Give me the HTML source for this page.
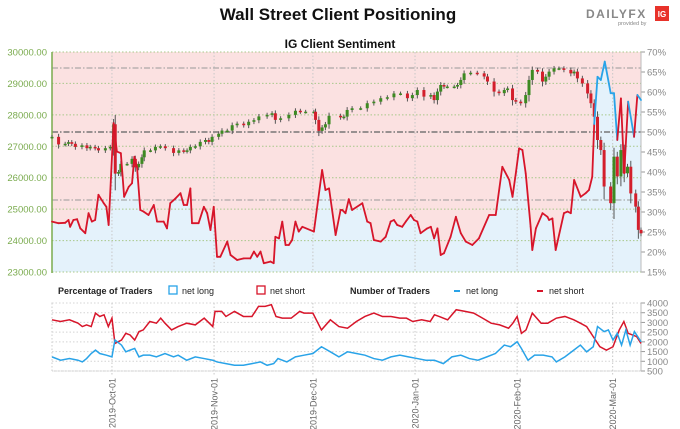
<!DOCTYPE html>
<html><head><meta charset="utf-8"><style>
body{margin:0;background:#fff;}
svg{display:block;font-family:"Liberation Sans",sans-serif;}
</style></head><body>
<svg id="c" width="680" height="429">
<text x="338" y="20" text-anchor="middle" font-size="17" font-weight="bold" fill="#111">Wall Street Client Positioning</text>
<g>
<text x="586" y="18" font-size="12" font-weight="bold" fill="#888" letter-spacing="1.5">DAILYFX</text>
<rect x="655" y="6" width="14" height="15" fill="#e8322a"/>
<text x="662" y="17" text-anchor="middle" font-size="8" font-weight="bold" fill="#fff">IG</text>
<text x="618" y="25" font-size="5.5" fill="#888">provided by</text>
</g>
<text x="340" y="48" text-anchor="middle" font-size="12" font-weight="bold" fill="#111">IG Client Sentiment</text>
<g id="main"></g>
<g id="lower"></g>
</svg>
<script>
// ---- data: net long % (days from 2019-10-01) ----
const pctDays=[-18.2,-16.2,-14.2,-13.2,-12.7,-11.7,-10.6,-9.6,-8.1,-7.1,-6.1,-5.1,-4.1,-2.5,-1.7,-1.0,0.5,1.5,2.7,3.7,5.1,6.1,6.8,7.6,8.6,9.6,11.1,12.7,13.7,15.7,16.7,17.7,19.3,20.8,21.8,22.8,23.8,24.3,26.3,27.9,28.9,29.9,30.9,31.9,32.9,35.0,36.0,38.0,40.0,42.0,43.1,44.1,45.1,46.1,48.1,49.1,49.6,50.7,51.7,52.7,53.7,54.7,55.7,56.7,57.8,61.3,63.8,64.8,65.9,67.9,69.4,
69.9,70.9,71.9,72.9,76.0,77.5,78.5,79.5,81.6,83.1,84.6,85.6,86.6,88.1,89.2,90.7,91.7,92.7,93.7,95.7,96.8,97.8,98.8,99.8,100.8,102.8,104.4,105.9,107.4,109.4,111.4,114.5,116.5,118.5,120.1,120.6,121.6,122.6,123.6,124.6,125.6,127.1,127.6,128.7,130.7,132.2,132.7,133.7,134.7,137.2,138.3,139.3,140.3,142.3,143.8,144.8,145.8,146.4,147.4,148.4,149.6,151.4,152.4,153.4,154.5,155.5,156.7,158.5,159.5,160.6];
const pctLong=[27.6,27.2,27.3,28,26.3,28,28.2,25.9,24.7,29.7,27.6,28,34.3,32.2,31.3,26.75,52.2,45.1,44.7,33.8,36.3,37.2,43.8,41.3,30.5,30.1,29.25,31.75,27.6,27.6,25.9,32.2,33.4,34.7,31.75,31.75,35.9,27.2,27.2,31.3,29.7,25.5,31.3,18.8,18.8,22.6,19.25,18,18.4,18.4,20.1,18.8,20.1,17.2,17.6,17.2,23.8,23.4,27.6,21.75,21.75,23,27.6,25.1,26.3,25.1,40.5,35.5,35.9,24.25,30.5,
30.5,29.7,33.2,30.5,32.2,27.6,27.2,23,22.6,23.8,27.6,28,26.75,26.3,27.6,29.25,28,27.6,24.7,25.9,26.3,23.4,25.9,19.25,19.7,23.8,28.8,24.7,22.6,21.75,23.4,29.25,29.25,41.3,38.8,38,33.8,39.7,45.9,45.5,39.7,26.3,20.5,25.9,29.7,28.8,28,28.4,20.5,29.7,30.1,29.7,38,33.8,34.7,35.5,38.8,52,63.8,63,67.6,59.7,59.7,48,58.4,39.7,57.6,48.8,59.25,58];
// ---- price closes ----
const pxDays=[-18.2,-16.2,-14.2,-13.2,-12.2,-11.1,-9.1,-7.6,-6.6,-5.1,-4.1,-2.0,-0.5,0.5,1.0,2.0,2.7,4.6,6.1,7.1,8.1,9.1,9.8,11.7,13.2,14.7,16.2,18.7,20.3,21.8,22.8,23.8,25.3,26.8,28.4,29.4,30.4,32.4,33.4,35.0,36.5,38.0,40.0,41.5,43.1,44.6,47.1,48.6,49.6,51.2,53.7,55.7,57.2,58.8,61.3,61.8,62.8,63.8,64.8,65.9,69.4,
70.4,71.4,72.9,75.5,77.5,79.5,81.6,83.6,85.6,87.6,89.7,91.2,92.7,94.7,96.8,97.8,98.8,99.8,100.8,101.8,103.9,104.9,105.9,106.9,108.9,110.9,113.0,114.0,116.0,117.5,119.1,120.1,121.6,122.6,124.1,125.6,126.6,127.6,129.2,130.7,131.7,132.7,134.2,135.7,137.2,139.3,140.3,141.3,142.8,144.4,145.4,146.4,147.4,148.4,149.4,151.4,152.4,153.4,154.5,155.5,156.5,157.5,159.0,159.8,160.6];
const pxClose=[27300,27060,27080,27130,27080,26980,27030,26940,26980,26940,26870,26940,26980,27700,26130,26180,26440,26440,26600,26330,26440,26650,26870,26870,26980,27000,26940,26790,26870,26840,26870,26980,27000,27140,27200,27140,27300,27400,27500,27500,27670,27720,27670,27780,27830,27950,28000,28050,27840,27890,28000,28130,28100,28100,28100,27840,27490,27600,27700,27970,27920,
27944,28155,28210,28210,28370,28420,28530,28560,28680,28680,28530,28630,28790,28580,28630,28470,28740,28950,28900,28900,28900,28950,29110,29320,29340,29320,29220,29060,28740,28690,28790,28840,28470,28420,28370,28630,29110,29430,29375,29060,29215,29375,29480,29480,29430,29320,29375,29160,29000,28680,28370,27940,27200,26880,25720,25190,26670,26040,26880,26140,26350,25500,25080,24340,24230];
// ---- trader counts ----
const shortDays=[-18.2,-15.6,-12.9,-10.3,-9.0,-7.7,-6.3,-5.0,-3.7,-2.4,-1.1,0,0.9,2.9,4.2,5.5,6.9,8.2,9.5,11.5,13.5,14.8,16.1,18.1,20.1,22.7,25.3,28.0,30.6,31.3,33.3,34.6,37.2,39.9,42.5,44.5,46.5,48.4,49.8,51.7,54.4,57.0,58.3,61.0,63.6,66.3,68.9,71.5,74.2,76.8,79.5,82.1,84.7,87.4,89.4,91.3,94.0,96.6,97.9,99.3,101.9,104.5,107.2,109.8,112.5,115.1,117.7,120.4,121.7,123.0,124.3,125.7,127.6,130.3,132.3,134.9,137.5,140.2,142.2,144.1,146.1,148.1,150.1,152.1,154.0,155.4,156.7,158.0,159.3,160.6];
const shortCount=[3134,3047,3134,2960,2787,2873,2787,3480,3307,3393,2787,3220,1920,2094,2440,2354,2094,2527,2614,3047,2960,3220,2960,2614,2787,2960,2873,3220,2787,3567,3567,3307,3567,3307,3307,3827,3827,3913,3307,3220,3220,3567,3480,3480,2614,3134,2787,2700,3047,3307,3480,3307,3307,3220,3220,3047,3134,3047,3393,3307,3134,3653,3567,3480,3220,2960,2873,2700,2960,3307,2440,2614,3480,2960,2960,3220,3307,3134,2960,2787,2268,1750,1574,1747,2614,3047,2440,2354,2268,1920];
const longDays=[-18.2,-15.6,-12.9,-10.3,-9.0,-7.7,-6.3,-5.0,-3.7,-1.7,0,0.9,2.9,4.2,5.5,6.9,8.2,9.5,11.5,13.5,16.1,18.7,20.1,22.7,25.3,28.0,30.6,31.9,34.6,37.2,39.9,42.5,45.1,47.1,49.1,50.4,53.1,55.7,58.3,61.0,63.6,66.3,68.9,71.5,74.2,76.8,79.5,82.1,84.7,87.4,90.0,92.7,95.3,97.9,100.6,103.2,105.9,108.5,111.1,113.8,116.4,119.1,121.0,123.0,124.3,126.3,128.3,130.9,133.6,134.9,137.5,140.2,142.2,144.1,146.1,147.4,149.4,150.7,152.1,153.4,154.7,156.0,157.3,158.6,160.6];
const longCount=[1227,1054,1140,1054,967,1140,1400,1574,1400,1314,1227,2094,1834,1487,1574,1660,1227,1314,1314,1227,1400,1227,1314,1054,1227,1140,1054,967,880,794,794,880,967,794,880,1140,967,1227,1314,1400,1747,1487,1227,1487,1400,1314,1140,1054,1227,1314,1227,1140,1054,1054,880,1227,1314,1140,1054,1227,1400,1834,1747,2007,1660,1054,1314,1314,1227,967,1227,1574,1834,1487,1747,2787,2527,2614,2094,2440,1834,2614,1834,2527,2007];
const priceTicks=[30000,29000,28000,27000,26000,25000,24000,23000];
const pctTicks=[70,65,60,55,50,45,40,35,30,25,20,15];
const countTicks=[4000,3500,3000,2500,2000,1500,1000,500];
const monthLabels=["2019-Oct-01","2019-Nov-01","2019-Dec-01","2020-Jan-01","2020-Feb-01","2020-Mar-01"];
const monthDays=[0,31,61,92,123,152];

const NS="http://www.w3.org/2000/svg";
function mk(parent,tag,attrs,text){const e=document.createElementNS(NS,tag);for(const k in attrs)e.setAttribute(k,attrs[k]);if(text!=null)e.textContent=text;parent.appendChild(e);return e;}
const X0=52,X1=641,D0=-18.2,D1=160.6;
const xs=d=>X0+(d-D0)/(D1-D0)*(X1-X0);
const T=52,B=272;
const yPrice=p=>T+(30000-p)/7000*(B-T);
const yPct=v=>T+(70-v)/55*(B-T);
const LT=303,LB=371;
const yCnt=v=>LT+(4000-v)/3500*(LB-LT);

const main=document.getElementById('main');
// background areas
let pts=pctDays.map((d,i)=>xs(d)+','+yPct(pctLong[i]));
const pink=mk(main,'rect',{x:X0,y:T,width:X1-X0,height:B-T,fill:'#fbe1e1'});


const blue=mk(main,'polygon',{points:xs(pctDays[0])+','+B+' '+pts.join(' ')+' '+xs(pctDays[pctDays.length-1])+','+B,fill:'#e4f2fb'});


// grid
priceTicks.forEach(p=>{
 const g=mk(main,'line',{x1:X0,x2:X1,y1:yPrice(p),y2:yPrice(p),stroke:'#a8c88a','stroke-dasharray':'1.5,2','stroke-width':1});
 
 
 const t=mk(main,'text',{x:47,y:yPrice(p)+3.5,'text-anchor':'end','font-size':9.5,fill:'#7aab4e'},p.toFixed(2));
 
 
});
pctTicks.forEach(v=>{
 mk(main,'line',{x1:X1,x2:X1+4,y1:yPct(v),y2:yPct(v),stroke:'#999'});
 const t=mk(main,'text',{x:X1+6,y:yPct(v)+3.5,'font-size':9.5,fill:'#888'},v+'%');
 
 
});
monthDays.forEach(d=>{
 const l=mk(main,'line',{x1:xs(d),x2:xs(d),y1:T,y2:B,stroke:'#c8c8c8','stroke-dasharray':'1.5,2'});
 
 
});
[[66,'#999'],[50,'#777'],[33,'#999']].forEach(([v,c])=>{
 const l=mk(main,'line',{x1:X0,x2:X1,y1:yPct(v),y2:yPct(v),stroke:c,'stroke-dasharray':'6,2,1.5,2','stroke-width':v==50?1.5:1});
 
 
});
// axes
mk(main,'line',{x1:X0,x2:X0,y1:T,y2:B+1,stroke:'#7aab4e','stroke-width':1.5});
mk(main,'line',{x1:X1,x2:X1,y1:T,y2:B,stroke:'#bbb'});
// candles
pxClose.forEach((c,i)=>{
 const o=i>0?pxClose[i-1]:c;
 const hi=Math.max(o,c)+60+Math.abs(c-o)*0.15, lo=Math.min(o,c)-60-Math.abs(c-o)*0.3;
 const x=xs(pxDays[i]);
 const g=mk(main,'g',{});
 
 
 mk(g,'line',{x1:x,x2:x,y1:yPrice(hi),y2:yPrice(lo),stroke:'#555','stroke-width':1});
 const y1=yPrice(Math.max(o,c)),y2=yPrice(Math.min(o,c));
 mk(g,'rect',{x:x-1.5,y:y1,width:3,height:Math.max(1.5,y2-y1),fill:c>=o?'#3d8a22':'#d31f2c'});
});
// sentiment line
for(let i=1;i<pctDays.length;i++){
 const a=pctLong[i-1],b=pctLong[i];
 const col=(a>=50&&b>=50)||(a>=50&&b>=45&&i>pctDays.length-12)?'#29a3e8':'#d7152a';
 const l=mk(main,'line',{x1:xs(pctDays[i-1]),y1:yPct(a),x2:xs(pctDays[i]),y2:yPct(b),stroke:col,'stroke-width':1.8,'stroke-linecap':'round'});
 
 
}
// ---- lower chart ----
const low=document.getElementById('lower');
const leg=[['Percentage of Traders',58,null,true],['net long',182,'boxb'],['net short',270,'boxr'],['Number of Traders',350,null,true],['net long',466,'lb'],['net short',549,'lr']];
leg.forEach(([t,x,k,b])=>{
 const g=mk(low,'g',{});
 
 
 if(k==='boxb')mk(g,'rect',{x:x-13,y:286,width:8,height:8,fill:'none',stroke:'#29a3e8','stroke-width':1.3});
 if(k==='boxr')mk(g,'rect',{x:x-13,y:286,width:8,height:8,fill:'none',stroke:'#d7152a','stroke-width':1.3});
 if(k==='lb')mk(g,'line',{x1:x-12,x2:x-6,y1:291,y2:291,stroke:'#29a3e8','stroke-width':2});
 if(k==='lr')mk(g,'line',{x1:x-12,x2:x-6,y1:291,y2:291,stroke:'#d7152a','stroke-width':2});
 mk(g,'text',{x:x,y:294,'font-size':9,'font-weight':b?'bold':'normal',fill:'#222'},t);
});
mk(low,'rect',{x:X0,y:LT,width:X1-X0,height:LB-LT,fill:'none',stroke:'#ccc','stroke-dasharray':'1.5,2'});
countTicks.forEach(v=>{
 const l=mk(low,'line',{x1:X0,x2:X1,y1:yCnt(v),y2:yCnt(v),stroke:'#d4d4d4','stroke-dasharray':'1.5,2'});
 
 
 mk(low,'line',{x1:X1,x2:X1+4,y1:yCnt(v),y2:yCnt(v),stroke:'#999'});
 const t=mk(low,'text',{x:X1+6,y:yCnt(v)+3.5,'font-size':9.5,fill:'#888'},v);
 
 
});
mk(low,'line',{x1:X1,x2:X1,y1:LT,y2:LB,stroke:'#bbb'});
monthDays.forEach((d,i)=>{
 const x=xs(d);
 const l=mk(low,'line',{x1:x,x2:x,y1:LT,y2:LB+4,stroke:'#c8c8c8','stroke-dasharray':'1.5,2'});
 
 
 const t=mk(low,'text',{x:0,y:0,'font-size':9,fill:'#666','text-anchor':'end',transform:`translate(${x+3.5},378) rotate(-90)`},monthLabels[i]);
 
 
});
const sl=mk(low,'polyline',{points:shortDays.map((d,i)=>xs(d)+','+yCnt(shortCount[i])).join(' '),fill:'none',stroke:'#d7152a','stroke-width':1.5});


const ll=mk(low,'polyline',{points:longDays.map((d,i)=>xs(d)+','+yCnt(longCount[i])).join(' '),fill:'none',stroke:'#29a3e8','stroke-width':1.5});


</script>
</body></html>
